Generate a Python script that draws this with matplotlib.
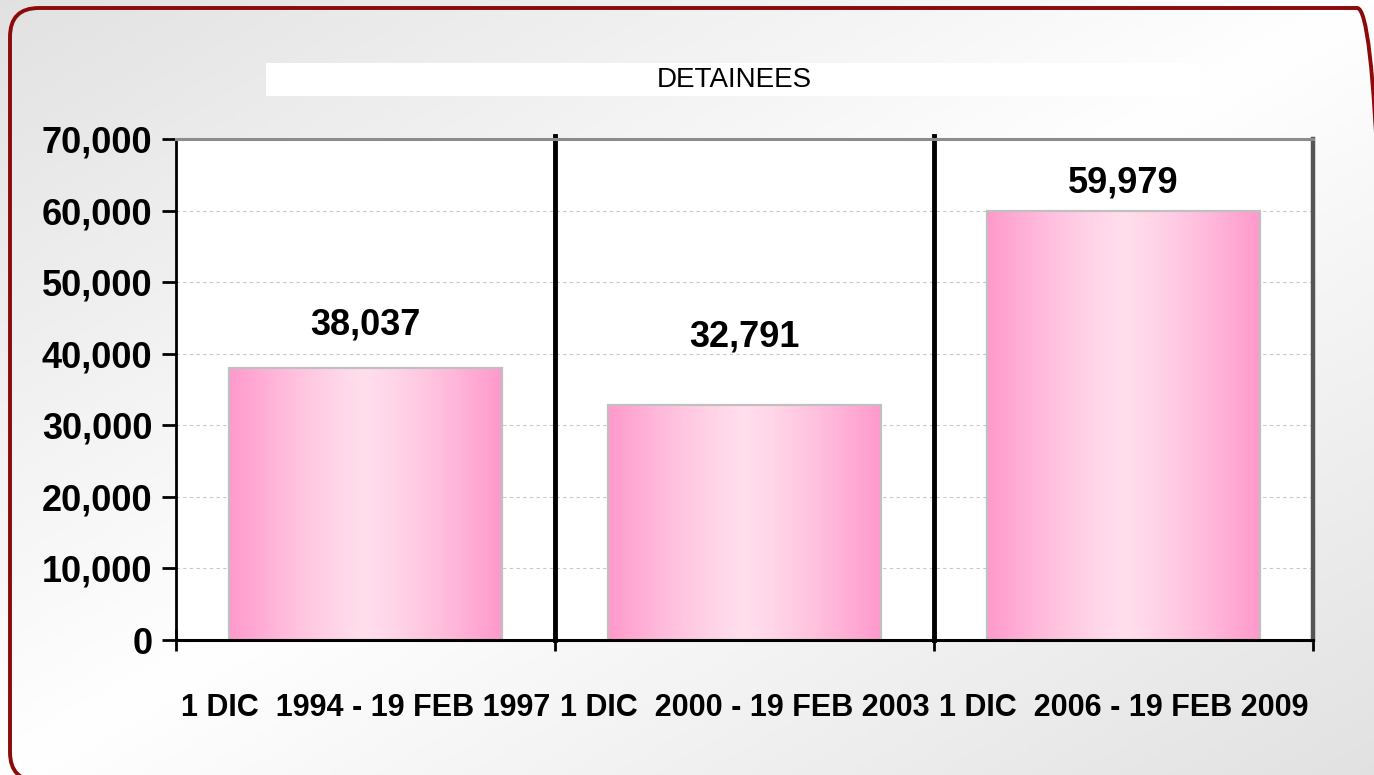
import numpy as np
import matplotlib.pyplot as plt
from matplotlib import rcParams
from matplotlib.patches import FancyBboxPatch, Rectangle
from matplotlib.ticker import FuncFormatter

########################################################################
# Setup
########################################################################
rcParams['font.family'] = ['Liberation Sans', 'DejaVu Sans']

W, H = 1374, 775

categories = ['1 DIC  1994 - 19 FEB 1997',
              '1 DIC  2000 - 19 FEB 2003',
              '1 DIC  2006 - 19 FEB 2009']
detainees = [38037, 32791, 59979]
value_labels = ['38,037', '32,791', '59,979']
yticks = [0, 10000, 20000, 30000, 40000, 50000, 60000, 70000]

# how far each value label sits above its bar (points)
label_offsets = [31, 49, 20]

pink = np.array([255, 153, 204]) / 255.
light = np.array([255, 222, 236]) / 255.

########################################################################
# Figure + background
########################################################################
fig = plt.figure(figsize=(W / 100, H / 100), dpi=100)

bg = fig.add_axes([0, 0, 1, 1])
bg.set_axis_off()
gx, gy = np.meshgrid(np.linspace(0, 1, 300), np.linspace(0, 1, 200))
d = np.abs(gx + gy - 1.0)
grey = 1.0 - 0.115 * d
bg.imshow(np.dstack([grey, grey, grey]), extent=(0, 1, 0, 1), aspect='auto',
          origin='upper', zorder=0)
bg.set_xlim(0, 1)
bg.set_ylim(0, 1)

# rounded dark red frame (right / bottom edges fall off the canvas)
frame = FancyBboxPatch((10 / W, -6 / H), (1386 - 10) / W, (775 + 6 - 8) / H,
                       boxstyle='round,pad=0,rounding_size=0.021',
                       mutation_aspect=W / H,
                       facecolor='none', edgecolor='#8b0a0a', linewidth=2.8,
                       transform=bg.transAxes, zorder=2)
bg.add_patch(frame)

# white title strip
bg.add_patch(Rectangle((266 / W, 1 - 96 / H), (1200 - 266) / W, 33 / H,
                       facecolor='white', edgecolor='none',
                       transform=bg.transAxes, zorder=2))
bg.text(734 / W, 1 - 80 / H, 'DETAINEES', ha='center', va='center',
        fontsize=20, color='black', transform=bg.transAxes, zorder=3)

########################################################################
# Plot
########################################################################
left, right, top, bottom = 176, 1313, 139, 640
ax = fig.add_axes([left / W, 1 - bottom / H, (right - left) / W, (bottom - top) / H])
ax.set_facecolor('white')

x = np.arange(len(categories))
bw = 0.72
bars = ax.bar(x, detainees, width=bw, facecolor='none', edgecolor='#c0c0c0',
              linewidth=1.6, zorder=4)

# horizontal pink gradient inside each bar
t = np.abs(np.linspace(-1, 1, 256)) ** 1.3
grad = light[None, :] + (pink - light)[None, :] * t[:, None]
grad = grad[None, :, :]
for xi, v, b in zip(x, detainees, bars):
    im = ax.imshow(grad, extent=(xi - bw / 2, xi + bw / 2, 0, v),
                   aspect='auto', zorder=3)
    im.set_clip_path(b)

for xi, v, lab, off in zip(x, detainees, value_labels, label_offsets):
    ax.annotate(lab, (xi, v), xytext=(0, off), textcoords='offset points',
                ha='center', va='center', fontsize=26, fontweight='bold')

ax.set_xlim(-0.5, 2.5)
ax.set_ylim(0, 70000)
ax.set_yticks(yticks)
ax.yaxis.set_major_formatter(FuncFormatter(lambda v, p: f'{int(v):,}'))
ax.yaxis.grid(True, color='#c8c8c8', linestyle=(0, (3, 3)), linewidth=0.8)
ax.set_axisbelow(True)

# separators between periods
for s in [0.5, 1.5]:
    ax.axvline(s, ymin=0, ymax=1.005, color='black', linewidth=3.5,
               zorder=6, clip_on=False)

ax.set_xticks([-0.5, 0.5, 1.5, 2.5])
ax.set_xticklabels([])
ax.set_xticks(x, minor=True)
ax.set_xticklabels(categories, minor=True, fontsize=22, fontweight='bold')
ax.tick_params(axis='x', which='major', direction='inout', length=16,
               width=2, color='black')
ax.tick_params(axis='x', which='minor', length=0, pad=38)
ax.tick_params(axis='y', direction='out', length=10, width=2,
               labelsize=26, pad=7)
for lab in ax.get_yticklabels():
    lab.set_fontweight('bold')

ax.spines['left'].set_linewidth(2)
ax.spines['bottom'].set_linewidth(2.2)
ax.spines['top'].set_color('#8c8c8c')
ax.spines['top'].set_linewidth(2.2)
ax.spines['right'].set_color('#555555')
ax.spines['right'].set_linewidth(3.2)
for sp in ax.spines.values():
    sp.set_zorder(7)

plt.savefig('out.png', dpi=100)
